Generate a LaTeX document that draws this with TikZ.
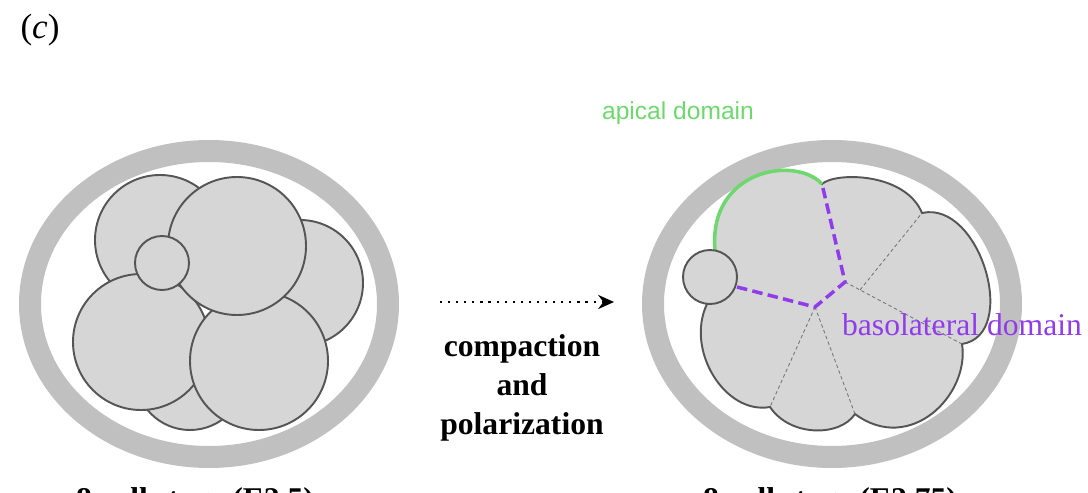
\documentclass[tikz,border=0pt]{standalone}
\usepackage{fontspec}
\setmainfont{Liberation Serif}
\newfontfamily\labelsans{Liberation Sans}
\usetikzlibrary{positioning,arrows.meta}

\definecolor{cellfill}{RGB}{214,214,214}
\definecolor{cellline}{RGB}{85,85,85}
\definecolor{zona}{RGB}{192,192,192}
\definecolor{apical}{RGB}{110,215,110}
\definecolor{baso}{RGB}{145,60,235}

\begin{document}
\begin{tikzpicture}[x=0.02cm, y=-0.02cm,
    cell/.style = {draw=cellline, fill=cellfill, line width=1.1pt},
    ring/.style = {draw=zona, line width=0.44cm},
    contact/.style = {draw=cellline!80, line width=0.5pt, dash pattern=on 2pt off 1.5pt},
    basal/.style = {draw=baso, line width=2pt, dash pattern=on 6pt off 3pt},
    stage/.style = {font=\fontsize{18}{22}\selectfont\bfseries, anchor=base}
    ]
\useasboundingbox (0,0) rectangle (1088,493);

\node (tag) at (40,30) {\fontsize{20}{24}\selectfont(\textit{c})};

% uncompacted embryo
\draw[ring] (209,304) ellipse (179 and 153);
\draw[cell] (160,240) circle (65);
\draw[cell] (300,283) circle (63);
\draw[cell] (190,375) circle (55);
\draw[cell] (141,342) circle (68);
\draw[cell] (259,361) circle (69);
\draw[cell] (237,246) circle (69);
\draw[cell] (162,263) circle (27);

% compacted embryo
\draw[ring] (832,304) ellipse (179 and 153);
\coordinate (n0) at (715,250);
\coordinate (n1) at (822,184);
\coordinate (n2) at (922,213);
\coordinate (n3) at (962,344);
\coordinate (n4) at (855,414);
\coordinate (n5) at (770,407);
\coordinate (n6) at (707,304);
\coordinate (mid) at (815,307);
\coordinate (hub) at (845,282);
\coordinate (fork) at (860,290);
\coordinate (pb) at (737,287);
\draw[cell] (n0) .. controls (708,170) and (795,155) .. (n1)
    .. controls (835,172) and (905,172) .. (n2)
    .. controls (980,200) and (1020,335) .. (n3)
    .. controls (970,395) and (910,455) .. (n4)
    .. controls (840,437) and (790,437) .. (n5)
    .. controls (725,415) and (685,350) .. (n6) -- cycle;
\draw[contact] (mid) -- (n5);
\draw[contact] (mid) -- (n4);
\draw[contact] (hub) -- (n3);
\draw[contact] (fork) -- (n2);
\draw[apical, line width=2pt] (n0) .. controls (708,170) and (795,155) .. (n1);
\draw[basal] (pb) -- (mid) -- (hub) -- (n1);
\draw[cell] (710,277) circle (27);

\node[text=apical, font=\labelsans\fontsize{14}{17}\selectfont] (apicallbl) at (678,113) {apical domain};
\node[text=baso, font=\fontsize{18}{22}\selectfont] (basolbl) at (962,325) {basolateral domain};

% transition
\coordinate (arrS) at (440,302);
\coordinate (arrE) at (614,302);
\draw[line width=1.4pt, dash pattern=on 1.2pt off 3.4pt, -{Stealth[length=9pt, width=8pt]}] (arrS) -- (arrE);
\node[font=\fontsize{18}{22}\selectfont\bfseries, align=center] (proc) at (522,388) {compaction\\and\\polarization};

\node[stage] (before) at (195,509) {8-cell stage (E2.5)};
\node[stage] (after) at (830,509) {8-cell stage (E2.75)};
\end{tikzpicture}
\end{document}
